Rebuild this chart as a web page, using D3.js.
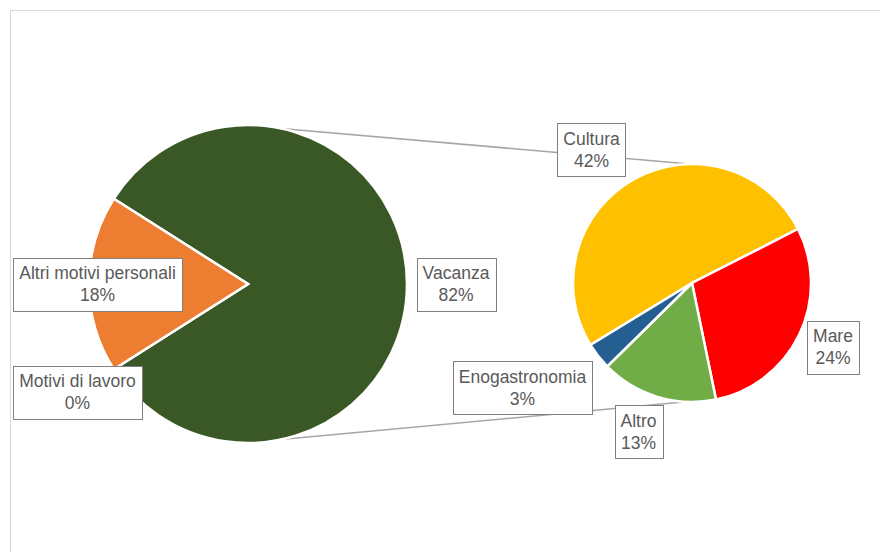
<!DOCTYPE html>
<html>
<head>
<meta charset="utf-8">
<script src="https://cdn.jsdelivr.net/npm/d3@7"></script>
<style>
  html, body { margin: 0; padding: 0; background: #fff; }
  svg { display: block; }
  text { font-family: "Liberation Sans", Arial, sans-serif; }
</style>
</head>
<body>
<svg id="chart" width="880" height="552"></svg>
<script>
// ---- Data ----
const mainCategories = ["Vacanza", "Motivi di lavoro", "Altri motivi personali"];
const mainValues = [82, 0, 18];
const subCategories = ["Cultura", "Mare", "Altro", "Enogastronomia"];
const subValues = [42, 24, 13, 3];

// ---- Styles / layout ----
const colors = {
  "Vacanza": "#3A5826",
  "Motivi di lavoro": "#4472C4",
  "Altri motivi personali": "#ED7D31",
  "Cultura": "#FFC000",
  "Mare": "#FF0000",
  "Altro": "#70AD47",
  "Enogastronomia": "#255E91"
};
const labelCenters = {
  "Vacanza": [456, 284],
  "Altri motivi personali": [97.5, 284],
  "Motivi di lavoro": [77.5, 392],
  "Cultura": [591.5, 149.5],
  "Mare": [833, 347],
  "Enogastronomia": [522.5, 387.5],
  "Altro": [638.5, 431.5]
};
const mainC = [248, 284], mainR = 159;
const subC = [692, 283], subR = 119;
const deg = Math.PI / 180;

const svg = d3.select("#chart");

// chart area border
svg.append("rect")
  .attr("x", 10.5).attr("y", 10.5)
  .attr("width", 900).attr("height", 600)
  .attr("fill", "none").attr("stroke", "#d9d9d9").attr("stroke-width", 1);

// ---- Main pie: combined slice (Vacanza) centered pointing right ----
const mainTotal = d3.sum(mainValues);
const vacFrac = mainValues[0] / mainTotal;
const mainStart = Math.PI / 2 - Math.PI * vacFrac;
const mainPie = d3.pie().sort(null).value(d => d.v)
  .startAngle(mainStart).endAngle(mainStart + 2 * Math.PI);
const mainArcs = mainPie(mainCategories.map((c, i) => ({ c, v: mainValues[i] })));
const mainArc = d3.arc().innerRadius(0).outerRadius(mainR);

// ---- Secondary pie ----
const subTotal = d3.sum(subValues);
const subStart = (63 - 360 * subValues[0] / subTotal) * deg;
const subPie = d3.pie().sort(null).value(d => d.v)
  .startAngle(subStart).endAngle(subStart + 2 * Math.PI);
const subArcs = subPie(subCategories.map((c, i) => ({ c, v: subValues[i] })));
const subArc = d3.arc().innerRadius(0).outerRadius(subR);

// connector lines
function pt(c, r, a) { return [c[0] + r * Math.sin(a), c[1] - r * Math.cos(a)]; }
const conn = [
  [pt(mainC, mainR, 12 * deg), pt(subC, subR, -1 * deg)],
  [pt(mainC, mainR, 168 * deg), pt(subC, subR, 183 * deg)]
];
svg.append("g").selectAll("line").data(conn).join("line")
  .attr("x1", d => d[0][0]).attr("y1", d => d[0][1])
  .attr("x2", d => d[1][0]).attr("y2", d => d[1][1])
  .attr("stroke", "#a6a6a6").attr("stroke-width", 1.5);

svg.append("g").attr("transform", `translate(${mainC})`)
  .selectAll("path").data(mainArcs).join("path")
  .attr("d", mainArc)
  .attr("fill", d => colors[d.data.c])
  .attr("stroke", "#fff").attr("stroke-width", 2.5).attr("stroke-linejoin", "miter");

svg.append("g").attr("transform", `translate(${subC})`)
  .selectAll("path").data(subArcs).join("path")
  .attr("d", subArc)
  .attr("fill", d => colors[d.data.c])
  .attr("stroke", "#fff").attr("stroke-width", 2.5);

// ---- Labels ----
const allLabels = mainArcs.map(d => d.data).concat(subArcs.map(d => d.data));
const fmt = v => Math.round(v) + "%";
const lg = svg.append("g");
allLabels.forEach(d => {
  const [cx, cy] = labelCenters[d.c];
  const g = lg.append("g");
  const rect = g.append("rect").attr("fill", "#fff").attr("stroke", "#808080").attr("stroke-width", 1);
  const t1 = g.append("text").attr("x", cx).attr("y", cy - 5)
    .attr("text-anchor", "middle").attr("font-size", 17.5).attr("fill", "#595959").text(d.c);
  const t2 = g.append("text").attr("x", cx).attr("y", cy + 17)
    .attr("text-anchor", "middle").attr("font-size", 17.5).attr("fill", "#595959").text(fmt(d.v));
  const w = Math.max(t1.node().getComputedTextLength(), t2.node().getComputedTextLength()) + 12;
  const h = 53;
  rect.attr("x", Math.round(cx - w / 2) + 0.5).attr("y", Math.round(cy - h / 2) + 0.5)
    .attr("width", Math.round(w)).attr("height", h);
});
</script>
</body>
</html>
